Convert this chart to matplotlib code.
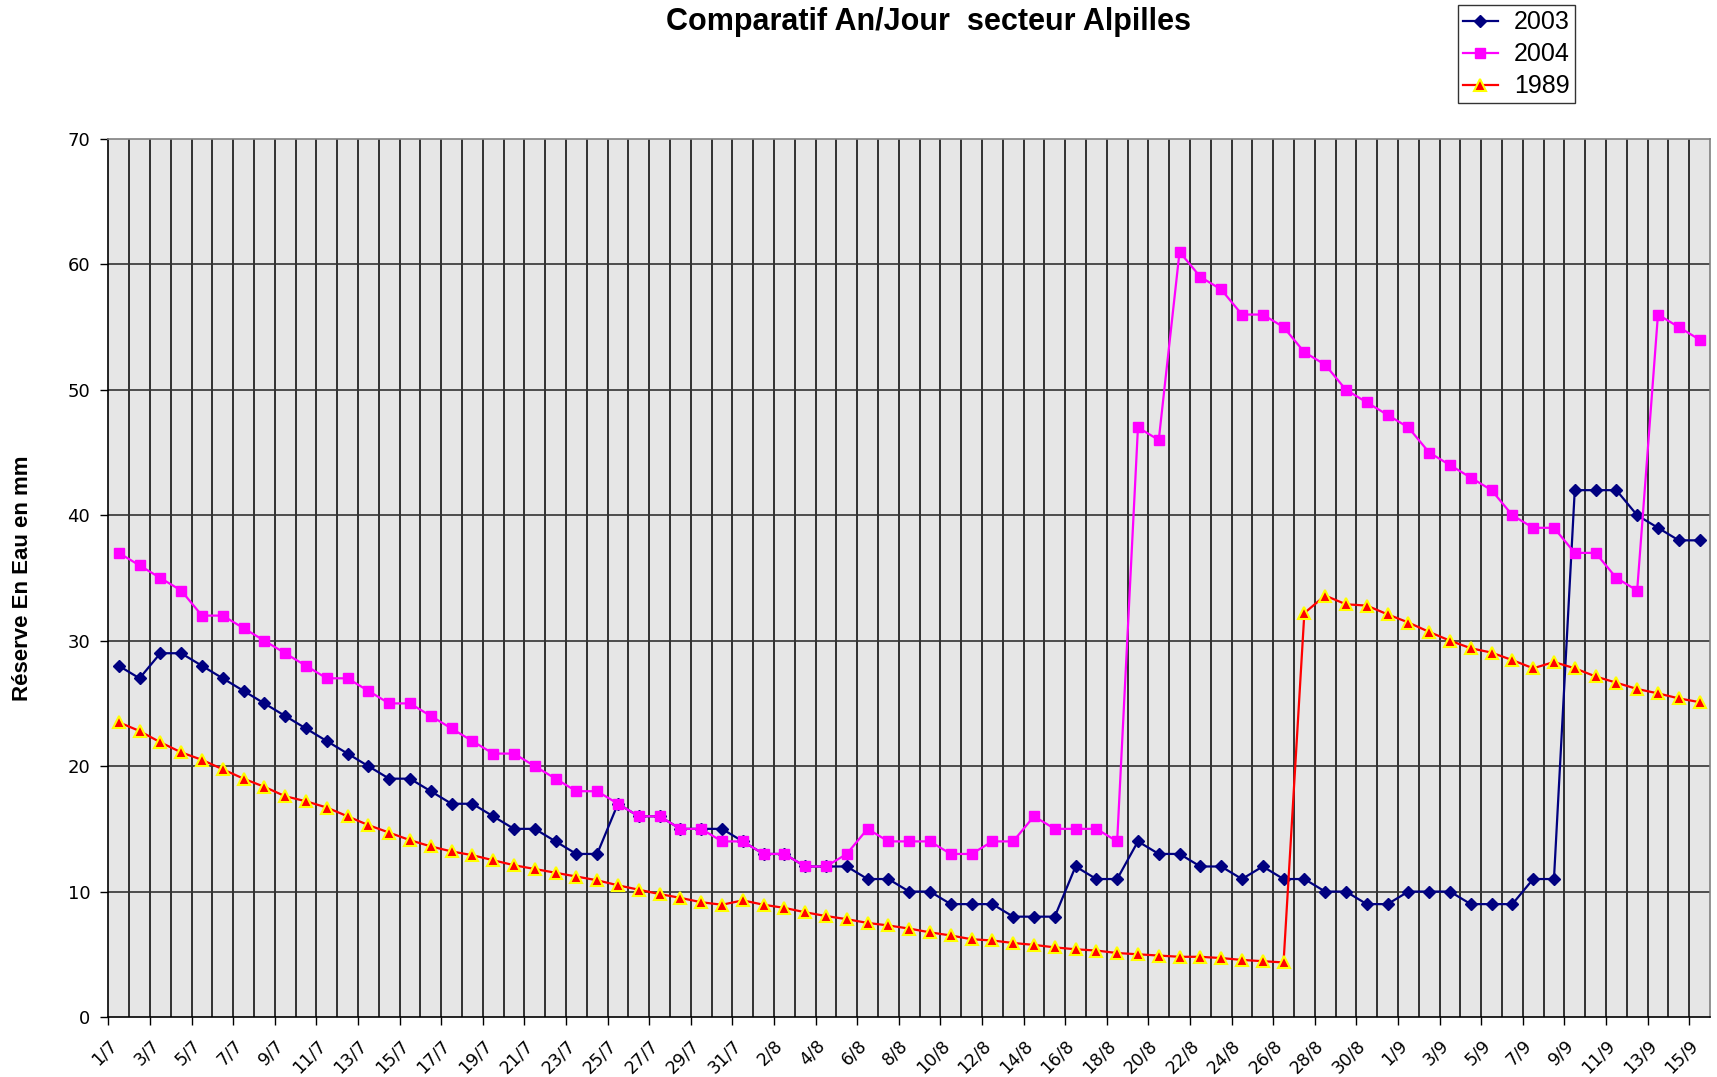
import numpy as np
import matplotlib
matplotlib.use("Agg")
import matplotlib.pyplot as plt

plt.rcParams["font.family"] = ["Liberation Sans", "DejaVu Sans"]

# categories: 1/7 .. 15/9
dates = ([f"{d}/7" for d in range(1, 32)] + [f"{d}/8" for d in range(1, 32)]
         + [f"{d}/9" for d in range(1, 16)])

y2003 = [28, 27, 29, 29, 28, 27, 26, 25, 24, 23, 22, 21, 20, 19, 19, 18, 17, 17, 16, 15,
         15, 14, 13, 13, 17, 16, 16, 15, 15, 15, 14, 13, 13, 12, 12, 12, 11, 11, 10, 10,
         9, 9, 9, 8, 8, 8, 12, 11, 11, 14, 13, 13, 12, 12, 11, 12, 11, 11, 10, 10,
         9, 9, 10, 10, 10, 9, 9, 9, 11, 11, 42, 42, 42, 40, 39, 38, 38]

y2004 = [37, 36, 35, 34, 32, 32, 31, 30, 29, 28, 27, 27, 26, 25, 25, 24, 23, 22, 21, 21,
         20, 19, 18, 18, 17, 16, 16, 15, 15, 14, 14, 13, 13, 12, 12, 13, 15, 14, 14, 14,
         13, 13, 14, 14, 16, 15, 15, 15, 14, 47, 46, 61, 59, 58, 56, 56, 55, 53, 52, 50,
         49, 48, 47, 45, 44, 43, 42, 40, 39, 39, 37, 37, 35, 34, 56, 55, 54]

y1989 = [23.5, 22.8, 21.9, 21.1, 20.5, 19.75, 19.0, 18.35, 17.6, 17.2, 16.7, 16.0, 15.3, 14.7,
         14.1, 13.6, 13.2, 12.9, 12.5, 12.1, 11.8, 11.5, 11.2, 10.9, 10.5, 10.15, 9.8, 9.5,
         9.15, 8.95, 9.3, 8.95, 8.7, 8.35, 8.05, 7.8, 7.5, 7.3, 7.05, 6.75, 6.5, 6.2, 6.1,
         5.9, 5.75, 5.55, 5.4, 5.3, 5.1, 5.0, 4.9, 4.8, 4.8, 4.7, 4.55, 4.45, 4.35, 32.2,
         33.6, 32.9, 32.8, 32.1, 31.45, 30.7, 30.0, 29.4, 29.05, 28.45, 27.8, 28.3, 27.8,
         27.15, 26.65, 26.15, 25.8, 25.4, 25.1]

x = np.arange(len(dates))

fig = plt.figure(figsize=(17.17, 10.77), dpi=100)
ax = fig.add_axes([0.0631, 0.0557, 0.9328, 0.8153])
ax.set_facecolor("#e6e6e6")

# grid: one vertical line per category boundary, horizontal every 10
for b in np.arange(0.5, len(dates) - 1, 1.0):
    ax.axvline(b, color="black", lw=1.1, zorder=1)
for v in range(10, 70, 10):
    ax.axhline(v, color="#333333", lw=1.2, zorder=1)

ax.plot(x, y2003, color="#000080", lw=1.6, marker="D", ms=6.5,
        mfc="#000080", mec="#000080", label="2003", zorder=3)
ax.plot(x, y2004, color="#ff00ff", lw=1.6, marker="s", ms=7.5,
        mfc="#ff00ff", mec="#ff00ff", label="2004", zorder=4)
ax.plot(x, y1989, color="#ff0000", lw=1.6, marker="^", ms=8,
        mfc="#ff0000", mec="#ffff00", mew=1.5, label="1989", zorder=5)

ax.set_xlim(-0.5, len(dates) - 0.5)
ax.set_ylim(0, 70)
ax.set_yticks(range(0, 71, 10))
ax.set_yticklabels([str(v) for v in range(0, 71, 10)], family="DejaVu Sans", fontsize=13)
ax.tick_params(axis="y", length=6, width=1, direction="out", pad=7)

tick_pos = np.arange(-0.5, len(dates) - 1, 2.0)
ax.set_xticks(tick_pos)
ax.set_xticklabels(dates[::2], rotation=45, ha="right", va="top",
                   rotation_mode="anchor", fontsize=12.5, family="DejaVu Sans")
ax.tick_params(axis="x", length=6, width=1, direction="out", pad=8)

for s in ["left", "bottom"]:
    ax.spines[s].set_color("black")
    ax.spines[s].set_linewidth(1.2)
for s in ["top", "right"]:
    ax.spines[s].set_color("#808080")
    ax.spines[s].set_linewidth(1.2)

ax.set_ylabel("Réserve En Eau en mm", fontsize=16, fontweight="bold")
ax.yaxis.set_label_coords(-0.047, 0.5)

fig.text(0.541, 0.98, "Comparatif An/Jour  secteur Alpilles", ha="center", va="center",
         fontsize=22, fontweight="bold")

leg = fig.legend(loc="upper left", bbox_to_anchor=(0.849, 0.995), fontsize=18,
                 frameon=True, fancybox=False, edgecolor="black", handlelength=1.4,
                 borderpad=0.2, labelspacing=0.32, handletextpad=0.65, borderaxespad=0)
leg.get_frame().set_linewidth(1.0)

fig.savefig("out.png", dpi=100)
